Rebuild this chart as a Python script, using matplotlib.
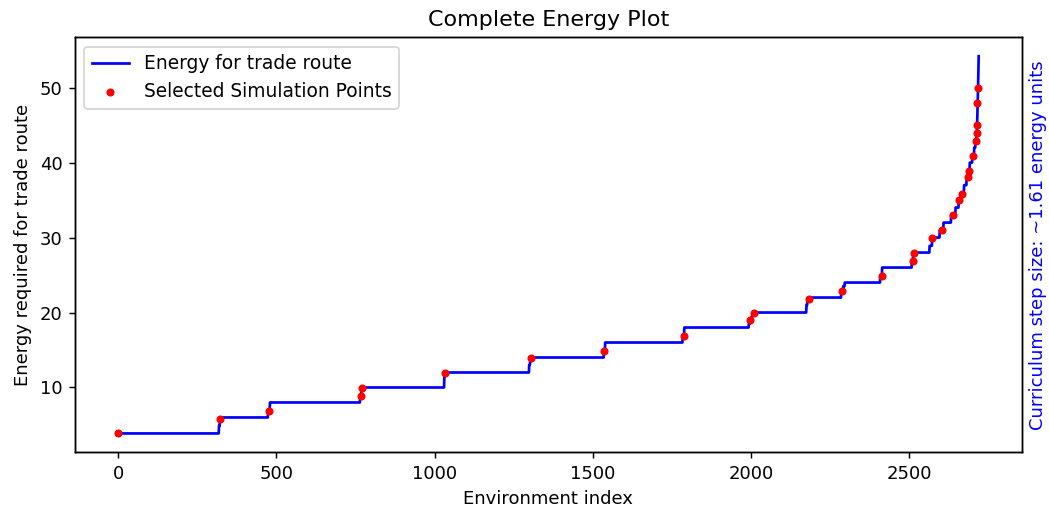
import numpy as np
import matplotlib
matplotlib.use("Agg")
import matplotlib.pyplot as plt

# Sorted energy curve, run-length encoded (energy level, number of environments)
run_energy = [3.87, 4.9, 5.83, 6.0, 6.5, 6.84, 8.0, 8.84, 9.9, 10.0, 11.5, 12.0,
              13.0, 13.5, 14.0, 14.84, 16.0, 16.93, 18.0, 18.5, 18.97, 19.5, 19.9,
              20.0, 21.0, 21.87, 22.0, 22.93, 23.5, 24.0, 24.89, 26.0, 26.84, 28.0,
              28.9, 30.0, 31.0, 32.0, 33.0, 34.0, 35.0, 36.0, 37.0, 38.0, 39.0,
              40.0, 41.0, 42.0, 43.0, 44.0, 45.0, 46.5, 48.0, 50.0, 52.0, 54.2]
run_count = [319, 3, 2, 150, 3, 3, 285, 4, 4, 258, 3, 265,
             3, 3, 230, 4, 245, 5, 204, 4, 5, 4, 3,
             166, 3, 3, 104, 6, 5, 112, 6, 94, 4, 52,
             8, 24, 12, 24, 14, 10, 8, 9, 8, 5, 5,
             8, 6, 4, 3, 2, 1, 1, 1, 1, 1, 1]

# Selected simulation points
sel_idx = [0, 322, 477, 766, 770, 1034, 1306, 1535, 1787, 1995, 2008, 2182, 2287,
           2412, 2510, 2514, 2573, 2602, 2639, 2658, 2667, 2684, 2687, 2702, 2710,
           2714, 2714, 2714, 2718]
sel_energy = [3.87, 5.83, 6.84, 8.84, 9.9, 11.96, 13.96, 14.84, 16.93, 18.97, 19.9,
              21.87, 22.93, 24.87, 26.82, 27.95, 29.96, 31.0, 33.03, 34.97, 35.87,
              38.04, 38.93, 40.9, 42.93, 44.0, 45.0, 47.96, 49.9]

energies = np.repeat(run_energy, run_count)
env_index = np.arange(len(energies))

DPI = 130
fig = plt.figure(figsize=(1049 / DPI, 509 / DPI), dpi=DPI)
ax = fig.add_axes([0.0715, 0.1114, 0.9025, 0.8153])
ax.plot(env_index, energies, color="blue", linewidth=1.5, label="Energy for trade route")
ax.scatter(sel_idx, sel_energy, color="red", s=12, zorder=3, label="Selected Simulation Points")
ax.set_title("Complete Energy Plot", fontsize=12.3)
ax.set_xlabel("Environment index")
ax.set_ylabel("Energy required for trade route")
ax.legend(loc="upper left", fontsize=10.3)

ax2 = ax.twinx()
ax2.set_yticks([])
ax2.set_ylabel("Curriculum step size: ~1.61 energy units", color="blue")

fig.savefig("out.png", dpi=DPI)
